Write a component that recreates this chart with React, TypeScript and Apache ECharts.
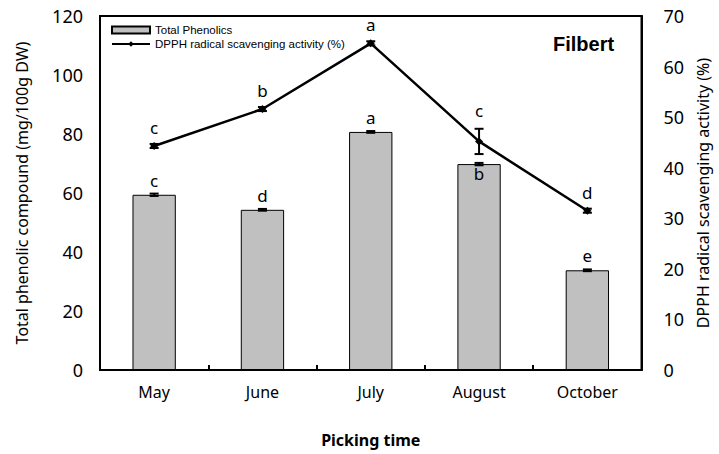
import React, { useEffect, useRef } from "react";
import * as echarts from "echarts";

const categories = ["May", "June", "July", "August", "October"];
const phenolics = [59.4, 54.3, 80.7, 69.8, 33.8];
const phenolicsErr = [0.4, 0.3, 0.3, 0.4, 0.3];
const phenolicsLetters = ["c", "d", "a", "b", "e"];
const dpph = [44.3, 51.6, 64.6, 45.2, 31.5];
const dpphErr = [0.4, 0.4, 0.4, 2.5, 0.4];
const dpphLetters = ["c", "b", "a", "c", "d"];
const leftTicks = { min: 0, max: 120, interval: 20 };
const rightTicks = { min: 0, max: 70, interval: 10 };

const FONT = "'Noto Sans', 'Open Sans', sans-serif";

function errRender(errs: number[], capW: number, lw: number) {
  return (params: any, api: any) => {
    const i = api.value(0);
    const v = api.value(1);
    const e = errs[params.dataIndex];
    const hi = api.coord([i, v + e]);
    const lo = api.coord([i, v - e]);
    const st = { stroke: "#000", lineWidth: lw };
    return {
      type: "group",
      children: [
        { type: "line", shape: { x1: hi[0], y1: hi[1], x2: lo[0], y2: lo[1] }, style: st },
        { type: "line", shape: { x1: hi[0] - capW / 2, y1: hi[1], x2: hi[0] + capW / 2, y2: hi[1] }, style: st },
        { type: "line", shape: { x1: lo[0] - capW / 2, y1: lo[1], x2: lo[0] + capW / 2, y2: lo[1] }, style: st },
      ],
    };
  };
}

export default function App() {
  const ref = useRef<HTMLDivElement>(null);
  useEffect(() => {
    if (!ref.current) return;
    const chart = echarts.init(ref.current, undefined, { renderer: "svg" });
    chart.setOption({
      animation: false,
      backgroundColor: "#fff",
      textStyle: { fontFamily: FONT },
      grid: { left: 100, right: 70, top: 16, bottom: 84, show: true, borderColor: "#000", borderWidth: 2, backgroundColor: "transparent" },
      legend: {
        orient: "vertical",
        left: 106,
        top: 19,
        itemWidth: 38,
        itemHeight: 7,
        itemGap: 2,
        textStyle: { fontFamily: "'Liberation Sans', Arial, sans-serif", fontSize: 11.5, color: "#000" },
        data: [
          { name: "Total Phenolics", icon: "rect" },
          { name: "DPPH radical scavenging activity (%)" },
        ],
      },
      graphic: [
        {
          type: "text",
          x: 553,
          y: 44,
          style: { text: "Filbert", font: "bold 20px 'Liberation Sans', Arial, sans-serif", fill: "#000", verticalAlign: "middle" },
        },
      ],
      xAxis: {
        type: "category",
        data: categories,
        name: "Picking time",
        nameLocation: "middle",
        nameGap: 62,
        nameTextStyle: { fontSize: 16, fontWeight: "bold", color: "#000", fontFamily: FONT },
        axisLine: { lineStyle: { color: "#000", width: 2 } },
        axisTick: { show: true, inside: true, length: 5, interval: 0, lineStyle: { color: "#000", width: 2 } },
        axisLabel: { fontSize: 16, color: "#000", margin: 14, fontFamily: FONT },
      },
      yAxis: [
        {
          type: "value",
          ...leftTicks,
          name: "Total phenolic compound (mg/100g DW)",
          nameLocation: "middle",
          nameRotate: 90,
          nameGap: 70,
          nameTextStyle: { fontSize: 16, color: "#000", fontFamily: FONT },
          axisLine: { show: true, lineStyle: { color: "#000", width: 2 } },
          axisTick: { show: false },
          splitLine: { show: false },
          axisLabel: { fontSize: 18, color: "#000", margin: 17, fontFamily: FONT },
        },
        {
          type: "value",
          ...rightTicks,
          name: "DPPH radical scavenging activity (%)",
          nameLocation: "middle",
          nameRotate: 90,
          nameGap: 50,
          nameTextStyle: { fontSize: 16, color: "#000", fontFamily: FONT },
          axisLine: { show: true, lineStyle: { color: "#000", width: 2 } },
          axisTick: { show: false },
          splitLine: { show: false },
          axisLabel: { fontSize: 18, color: "#000", margin: 22, fontFamily: FONT },
        },
      ],
      series: [
        {
          name: "Total Phenolics",
          type: "bar",
          barWidth: "40%",
          yAxisIndex: 0,
          itemStyle: { color: "#c0c0c0", borderColor: "#000", borderWidth: 1 },
          data: phenolics.map((v, i) => ({
            value: v,
            label: i === 3 ? { position: "insideTop", distance: 1 } : undefined,
          })),
          label: {
            show: true,
            position: "top",
            distance: 6,
            fontSize: 17,
            color: "#000",
            fontFamily: FONT,
            formatter: (p: any) => phenolicsLetters[p.dataIndex],
          },
          z: 2,
        },
        {
          name: "PhenolicsErr",
          type: "custom",
          yAxisIndex: 0,
          renderItem: errRender(phenolicsErr, 9, 2),
          data: phenolics.map((v, i) => [i, v]),
          z: 3,
        },
        {
          name: "DPPH radical scavenging activity (%)",
          type: "line",
          yAxisIndex: 1,
          symbol: "diamond",
          symbolSize: 8,
          lineStyle: { color: "#000", width: 2.5 },
          itemStyle: { color: "#000" },
          data: dpph.map((v, i) => ({
            value: v,
            label: i === 3 ? { distance: 18 } : undefined,
          })),
          label: {
            show: true,
            position: "top",
            distance: 6,
            fontSize: 17,
            color: "#000",
            fontFamily: FONT,
            formatter: (p: any) => dpphLetters[p.dataIndex],
          },
          z: 5,
        },
        {
          name: "DPPHErr",
          type: "custom",
          yAxisIndex: 1,
          renderItem: errRender(dpphErr, 9, 2),
          data: dpph.map((v, i) => [i, v]),
          z: 6,
        },
      ],
    });
    return () => chart.dispose();
  }, []);
  return <div ref={ref} style={{ position: "absolute", left: 0, top: 0, width: 719, height: 454 }} />;
}
